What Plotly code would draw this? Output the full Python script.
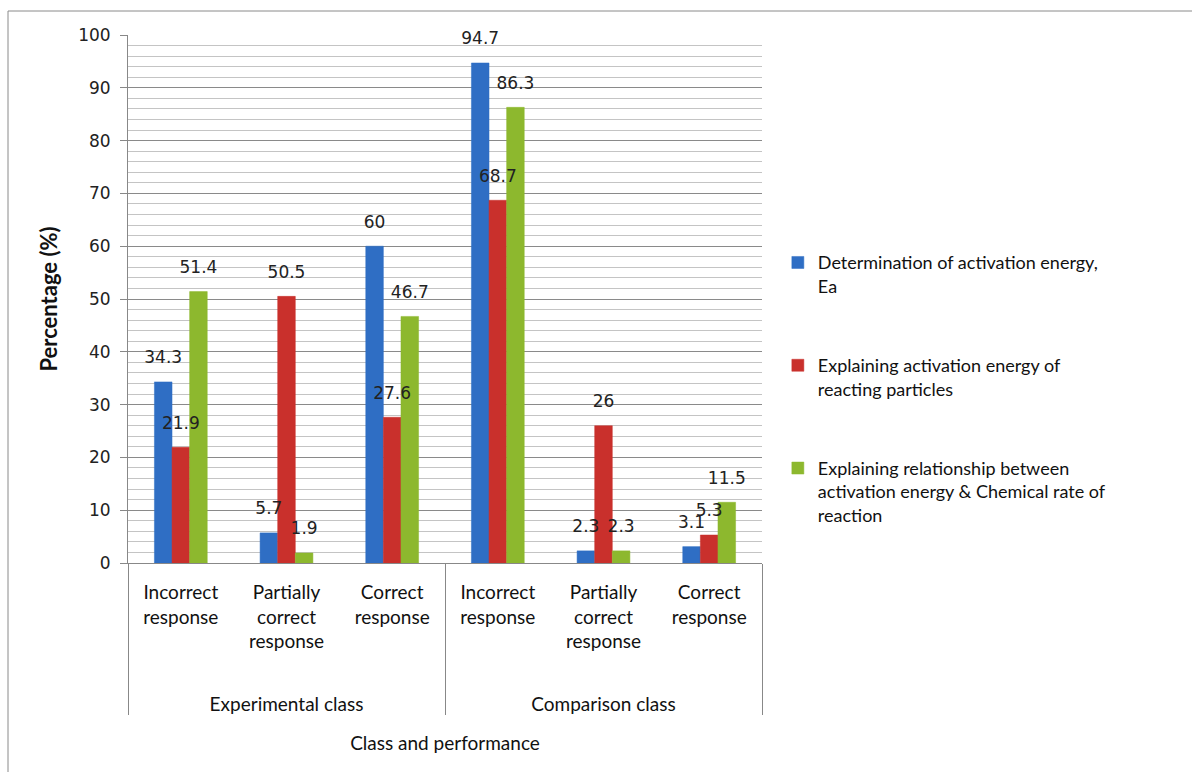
import plotly.graph_objects as go

groups = ["<br><br>Experimental class"] * 3 + ["<br><br>Comparison class"] * 3
performance = ["Incorrect<br>response", "Partially<br>correct<br>response", "Correct<br>response",
               "Incorrect<br>response", "Partially<br>correct<br>response", "Correct<br>response"]

series_names = [
    "Determination of activation energy,<br>Ea",
    "Explaining activation energy of<br>reacting particles",
    "Explaining relationship between<br>activation energy & Chemical rate of<br>reaction",
]
ea_values = [34.3, 5.7, 60, 94.7, 2.3, 3.1]
particles_values = [21.9, 50.5, 27.6, 68.7, 26, 5.3]
relationship_values = [51.4, 1.9, 46.7, 86.3, 2.3, 11.5]
colors = ["#2F6EC4", "#C9302C", "#8DB82E"]

y_ticks = [0, 10, 20, 30, 40, 50, 60, 70, 80, 90, 100]

all_values = [ea_values, particles_values, relationship_values]
label_lift = 2.2  # visual gap between bar top and its value label

fig = go.Figure()
# bars
for i, (name, vals, col) in enumerate(zip(series_names, all_values, colors)):
    fig.add_trace(go.Bar(
        x=[groups, performance], y=vals, name=name, legendgroup=f"g{i}",
        offsetgroup=f"s{i}",
        marker=dict(color=col, line=dict(color=col, width=0.5)),
        cliponaxis=False,
    ))
# value labels drawn on top of all bars (transparent bars in the same slots)
for i, vals in enumerate(all_values):
    fig.add_trace(go.Bar(
        x=[groups, performance], y=vals, base=[label_lift] * len(vals),
        offsetgroup=f"s{i}", showlegend=False,
        marker=dict(color="rgba(0,0,0,0)", line=dict(width=0)),
        text=[f"{v:g}" for v in vals], textposition="outside",
        constraintext="none", hoverinfo="skip",
        textfont=dict(family="DejaVu Sans", size=17, color="#222222"),
        cliponaxis=False,
    ))

fig.update_layout(
    width=1192, height=772,
    margin=dict(l=128, r=430, t=35, b=209),
    paper_bgcolor="white", plot_bgcolor="white",
    barmode="group", bargap=0.5, bargroupgap=0,
    font=dict(family="Lato", color="#111111"),
    legend=dict(
        x=1.025, y=0.33, xanchor="left", yanchor="middle",
        font=dict(family="Lato", size=18, color="#111111"),
        tracegroupgap=53, itemwidth=30, valign="top",
    ),
    showlegend=True,
)
fig.update_yaxes(
    range=[0, 100], tickvals=y_ticks,
    tickfont=dict(family="DejaVu Sans", size=17, color="#222222"),
    ticks="outside", ticklen=7, tickcolor="#888888",
    ticklabelstandoff=6,
    showline=True, linecolor="#888888", linewidth=1,
    showgrid=True, gridcolor="#8a8a8a", gridwidth=1,
    minor=dict(dtick=2, showgrid=True, gridcolor="#c4c4c4", gridwidth=1, ticks=""),
    zeroline=False,
    title=dict(text="<b>Percentage (%)</b>", font=dict(family="Lato", size=22, color="#111111"), standoff=14),
)
fig.update_xaxes(
    type="multicategory",
    showline=True, linecolor="#888888", linewidth=1,
    tickfont=dict(family="Lato", size=19, color="#111111"),
    ticklabelstandoff=12,
    showdividers=True, dividercolor="#888888", dividerwidth=1,
    ticks="",
    title=dict(text="Class and performance", font=dict(family="Lato", size=19, color="#111111"), standoff=23),
)
# chart area border (left and top visible)
fig.add_shape(type="rect", xref="paper", yref="paper",
              x0=(8 - 128) / 634, x1=(1300 - 128) / 634,
              y0=(563 - 900) / 528, y1=(563 - 11) / 528,
              line=dict(color="#8a8a8a", width=1), layer="below")
fig.write_html("out.html", config={"displayModeBar": False},
               post_script="document.body.style.margin='0';")
